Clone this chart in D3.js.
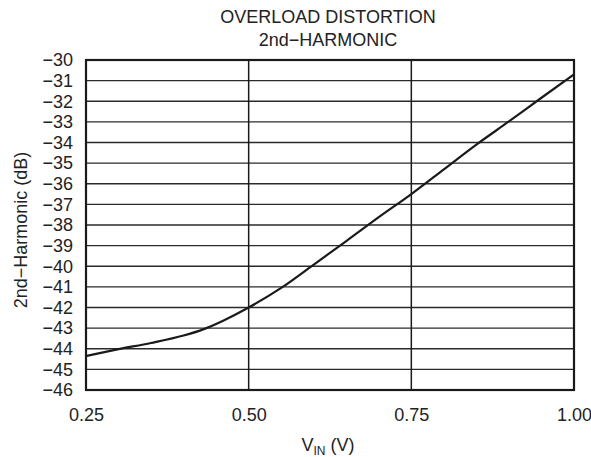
<!DOCTYPE html>
<html>
<head>
<meta charset="utf-8">
<script src="https://cdn.jsdelivr.net/npm/d3@7"></script>
<style>
  body { margin: 0; background: #fff; }
  text { font-family: "Liberation Sans", Arial, sans-serif; fill: #222; }
</style>
</head>
<body>
<script>
// 数据
const vin = [0.25, 0.30, 0.35, 0.40, 0.43, 0.46, 0.50, 0.55, 0.60, 0.65, 0.70, 0.75, 0.80, 0.85, 0.90, 0.95, 1.00];
const harmonic = [-44.35, -44.02, -43.72, -43.36, -43.06, -42.65, -42.0, -41.05, -39.92, -38.78, -37.62, -36.5, -35.3, -34.1, -32.98, -31.83, -30.7];
const xTicks = [0.25, 0.50, 0.75, 1.00];
const yTicks = d3.range(-30, -47, -1);
const titleLines = ["OVERLOAD DISTORTION", "2nd\u2212HARMONIC"];

const width = 591;
const height = 457;
const margin = { top: 60, right: 17, bottom: 67, left: 86 };
const fontSize = "18px";

const svg = d3.select("body").append("svg")
    .attr("width", width)
    .attr("height", height);

const x = d3.scaleLinear().domain([0.25, 1.00]).range([margin.left, width - margin.right]);
const y = d3.scaleLinear().domain([-46, -30]).range([height - margin.bottom, margin.top]);

// 横向网格线
svg.append("g")
    .selectAll("line")
    .data(yTicks)
    .enter().append("line")
    .attr("x1", x(0.25)).attr("x2", x(1.00))
    .attr("y1", d => y(d)).attr("y2", d => y(d))
    .attr("stroke", "#2a2a2a")
    .attr("stroke-width", 1.3);

// 纵向网格线
svg.append("g")
    .selectAll("line")
    .data(xTicks.slice(1, -1))
    .enter().append("line")
    .attr("x1", d => x(d)).attr("x2", d => x(d))
    .attr("y1", y(-30)).attr("y2", y(-46))
    .attr("stroke", "#1a1a1a")
    .attr("stroke-width", 1.5);

// 边框
svg.append("rect")
    .attr("x", x(0.25)).attr("y", y(-30))
    .attr("width", x(1.00) - x(0.25))
    .attr("height", y(-46) - y(-30))
    .attr("fill", "none")
    .attr("stroke", "#1a1a1a")
    .attr("stroke-width", 2.2);

// 坐标轴刻度
const yAxis = svg.append("g")
    .attr("transform", `translate(${margin.left - 13},0)`)
    .call(d3.axisLeft(y).tickValues(yTicks).tickFormat(d3.format("d")).tickSize(0).tickPadding(0));
yAxis.select(".domain").remove();
yAxis.selectAll("text")
    .style("font-size", fontSize)
    .style("font-family", "\"Liberation Sans\", Arial, sans-serif")
    .attr("fill", "#222");

const xAxis = svg.append("g")
    .attr("transform", `translate(0,${height - margin.bottom})`)
    .call(d3.axisBottom(x).tickValues(xTicks).tickFormat(d3.format(".2f")).tickSize(0).tickPadding(18));
xAxis.select(".domain").remove();
xAxis.selectAll("text")
    .style("font-size", fontSize)
    .style("font-family", "\"Liberation Sans\", Arial, sans-serif")
    .attr("fill", "#222");

// 曲线
const line = d3.line()
    .x((d, i) => x(vin[i]))
    .y(d => y(d))
    .curve(d3.curveMonotoneX);

svg.append("path")
    .datum(harmonic)
    .attr("d", line)
    .attr("fill", "none")
    .attr("stroke", "#1a1a1a")
    .attr("stroke-width", 2.2);

// 标题
svg.append("g")
    .selectAll("text")
    .data(titleLines)
    .enter().append("text")
    .attr("x", (x(0.25) + x(1.00)) / 2 - 2)
    .attr("y", (d, i) => 23 + i * 22.5)
    .attr("text-anchor", "middle")
    .style("font-size", fontSize)
    .text(d => d);

// X 轴标题
const xLabel = svg.append("text")
    .attr("x", 328)
    .attr("y", 451)
    .attr("text-anchor", "middle")
    .style("font-size", fontSize);
xLabel.append("tspan").text("V");
xLabel.append("tspan").attr("dy", 4).style("font-size", "12px").text("IN");
xLabel.append("tspan").attr("dy", -4).text(" (V)");

// Y 轴标题
svg.append("text")
    .attr("transform", "translate(27,230) rotate(-90)")
    .attr("text-anchor", "middle")
    .style("font-size", fontSize)
    .text("2nd\u2212Harmonic (dB)");
</script>
</body>
</html>
